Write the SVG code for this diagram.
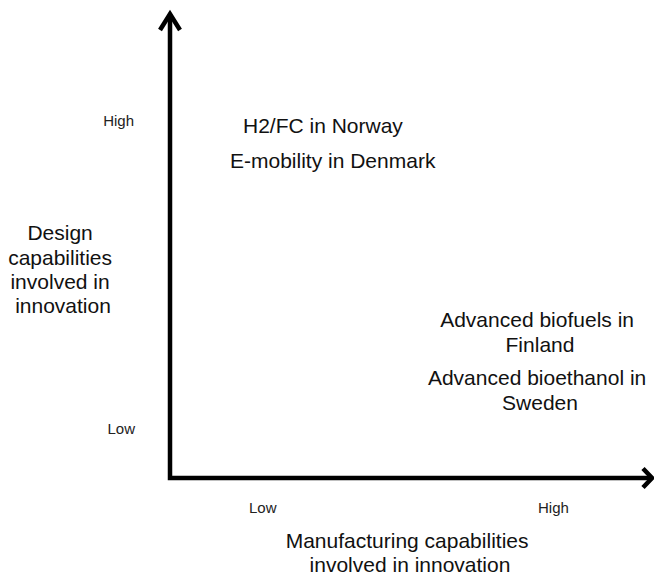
<svg xmlns="http://www.w3.org/2000/svg" width="654" height="575" viewBox="0 0 654 575">
  <style>
    .axis { fill: none; stroke: #000; stroke-width: 4.5; stroke-linecap: butt; stroke-linejoin: miter; }
    .big { font-family: "Liberation Sans", Arial, sans-serif; font-size: 21px; fill: #111; }
    .small { font-family: "Liberation Sans", Arial, sans-serif; font-size: 15px; fill: #222; }
  </style>
  <rect width="654" height="575" fill="#fff"/>
  <g id="connectors">
    <path class="axis" d="M170 15 V478 H652"/>
    <polyline class="axis" points="160,30 170,14 180,30"/>
    <polyline class="axis" points="643,468.5 652,478 643,487.5"/>
  </g>
  <g id="y-axis-labels">
    <text class="small" x="134" y="126" text-anchor="end">High</text>
    <text class="small" x="135" y="434" text-anchor="end">Low</text>
    <text class="big" x="63" text-anchor="middle">
      <tspan x="63" y="240">Design</tspan>
      <tspan x="63" y="265">capabilities</tspan>
      <tspan x="63" y="289">involved in</tspan>
      <tspan x="63" y="313">innovation</tspan>
    </text>
  </g>
  <g id="x-axis-labels">
    <text class="small" x="249" y="513">Low</text>
    <text class="small" x="538" y="513">High</text>
    <text class="big" text-anchor="middle">
      <tspan x="410" y="548">Manufacturing capabilities</tspan>
      <tspan x="410" y="572">involved in innovation</tspan>
    </text>
  </g>
  <g id="node-h2fc">
    <text class="big" x="243" y="133">H2/FC in Norway</text>
  </g>
  <g id="node-emobility">
    <text class="big" x="230" y="168">E-mobility in Denmark</text>
  </g>
  <g id="node-biofuels">
    <text class="big" text-anchor="middle">
      <tspan x="540" y="327">Advanced biofuels in</tspan>
      <tspan x="540" y="352">Finland</tspan>
    </text>
  </g>
  <g id="node-bioethanol">
    <text class="big" text-anchor="middle">
      <tspan x="540" y="385">Advanced bioethanol in</tspan>
      <tspan x="540" y="410">Sweden</tspan>
    </text>
  </g>
</svg>
